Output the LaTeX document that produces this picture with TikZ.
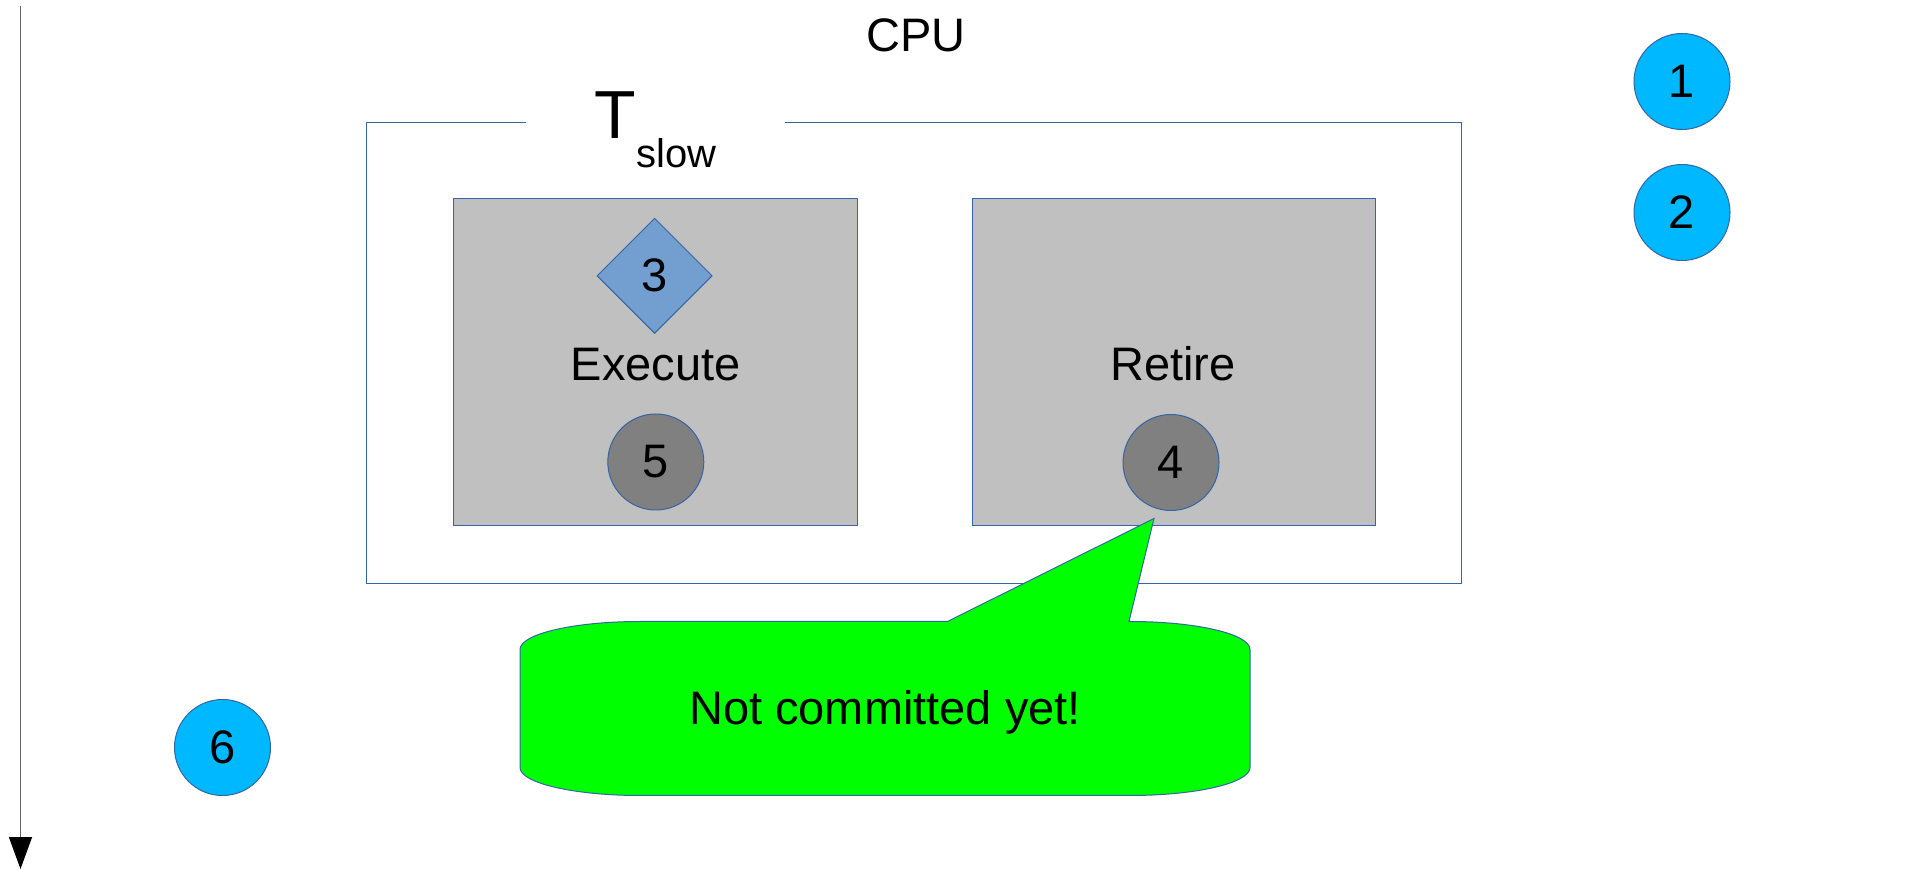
\documentclass[tikz,border=0pt]{standalone}
\usepackage{fontspec}
\setmainfont{Liberation Sans}
\usetikzlibrary{arrows.meta,shapes.geometric}
\definecolor{boxgray}{HTML}{C0C0C0}
\definecolor{lineblue}{HTML}{3465A4}
\definecolor{diablue}{HTML}{729FCF}
\definecolor{dkgray}{HTML}{808080}
\definecolor{skyblue}{HTML}{00B8FF}
\definecolor{callgreen}{HTML}{00FF00}
\tikzset{
  txt/.style={inner sep=0pt, font=\fontsize{23.5}{28}\selectfont},
  stagebox/.style={draw=lineblue, fill=boxgray, line width=0.5pt},
  numcirc/.style={circle, draw=lineblue, line width=0.5pt, minimum size=48pt, inner sep=0pt, font=\fontsize{23.5}{28}\selectfont},
  bluecirc/.style={numcirc, fill=skyblue},
  graycirc/.style={numcirc, fill=dkgray},
  frameline/.style={draw=lineblue, line width=0.5pt},
}
\begin{document}
\begin{tikzpicture}[x=0.5pt,y=-0.5pt]
\useasboundingbox (0,0) rectangle (1922,870);
% time arrow
\coordinate (atop) at (20.5,6);
\coordinate (abot) at (20.5,869);
\draw[black!60, line width=0.75pt, -{Triangle[width=11.5pt,length=16pt,black]}] (atop) -- (abot);
% CPU label
\node[txt, anchor=base] (cpu) at (916,52) {CPU};
% outer frame with gap
\draw[frameline] (526,122.6) -- (366.5,122.6) -- (366.5,583.5) -- (1461,583.5) -- (1461,122.6) -- (784.5,122.6);
% T_slow
\node[inner sep=0pt, anchor=base west, font=\fontsize{34}{40}\selectfont] (tbig) at (594.5,138.5) {T};
\node[inner sep=0pt, anchor=base west, font=\fontsize{20}{24}\selectfont] (tsub) at (636,168) {slow};
% stage boxes
\draw[stagebox] (453.5,198.6) rectangle (857,526);
\draw[stagebox] (972,198.6) rectangle (1375.5,526);
\node[txt, anchor=base] (exec) at (655.8,380.8) {Execute};
\node[txt, anchor=base] (ret) at (1173,380.8) {Retire};
% diamond 3
\node[diamond, aspect=1, draw=lineblue, fill=diablue, line width=0.5pt, minimum width=57.6pt, minimum height=57.6pt, inner sep=0pt, font=\fontsize{23.5}{28}\selectfont] (d3) at (654.6,275.8) {3};
% circles
\node[graycirc] (c5) at (655.8,462) {5};
\node[graycirc] (c4) at (1171,462.5) {4};
\node[bluecirc] (c1) at (1682,81.5) {1};
\node[bluecirc] (c2) at (1682,212.5) {2};
\node[bluecirc] (c6) at (222.5,747.5) {6};
% callout
\coordinate (tip) at (1154,518.5);
\filldraw[fill=callgreen, draw=lineblue, line width=0.5pt]
  (520,649.5) .. controls (520,634) and (573.7,621.5) .. (640,621.5)
  -- (947.5,621.5) -- (tip) -- (1129,621.5) -- (1130,621.5)
  .. controls (1196.3,621.5) and (1250,634) .. (1250,649.5)
  -- (1250,767.5) .. controls (1250,783) and (1196.3,795.5) .. (1130,795.5)
  -- (640,795.5) .. controls (573.7,795.5) and (520,783) .. (520,767.5) -- cycle;
\node[txt, anchor=base] (note) at (885,725) {Not committed yet!};
\end{tikzpicture}
\end{document}
